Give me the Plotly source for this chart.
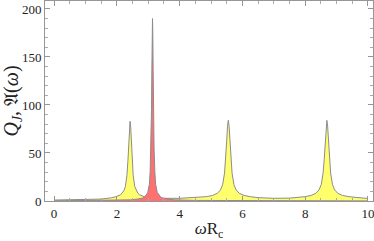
import plotly.graph_objects as go

# Yellow curve Q_J
yel_x = [0.0, 0.5, 1.0, 1.5, 1.82, 1.97, 2.12, 2.17, 2.22, 2.27, 2.32, 2.353, 2.38, 2.40, 2.42, 2.44, 2.46, 2.487,
         2.52, 2.57, 2.62, 2.67, 2.72, 2.87, 3.02, 3.22, 3.5, 4.0, 4.5, 4.85, 5.05, 5.2, 5.3, 5.37, 5.43, 5.465, 5.5,
         5.525, 5.55, 5.575, 5.6, 5.635, 5.67, 5.73, 5.8, 5.9, 6.05, 6.25, 6.5, 7.0, 7.5, 7.99, 8.19, 8.34, 8.44,
         8.51, 8.57, 8.605, 8.64, 8.665, 8.69, 8.715, 8.74, 8.775, 8.81, 8.87, 8.94, 9.04, 9.19, 9.39, 9.7, 10.0]
yel_y = [1.0, 1.1, 1.4, 2.0, 3.3, 4.5, 6.5, 8.0, 10.5, 15, 26.5, 42.5, 62, 77, 83, 77, 62, 42.5,
         26.5, 15, 10.5, 8.0, 6.5, 4.5, 3.5, 3.0, 2.8, 2.8, 3.6, 4.5, 5.8, 8.0, 11.5, 17, 29, 43, 63,
         78, 84, 78, 63, 43, 29, 17, 11.5, 8.0, 5.8, 4.5, 3.5, 2.8, 3.0, 4.5, 5.8, 8.0, 11.5,
         17, 29, 43, 63, 78, 84, 78, 63, 43, 29, 17, 11.5, 8.0, 5.8, 4.5, 3.4, 2.6]

# Red curve A(omega)
red_x = [0.0, 1.0, 2.0, 2.435, 2.685, 2.835, 2.885, 2.935, 2.985, 3.035, 3.06, 3.085, 3.103, 3.115, 3.125,
         3.135, 3.145, 3.155, 3.167, 3.185, 3.21, 3.235, 3.285, 3.335, 3.385, 3.435, 3.585, 3.835, 4.5, 6.0, 10.0]
red_y = [0.2, 0.4, 0.8, 1.2, 2.2, 3.2, 4.6, 6.2, 9.0, 17.5, 30, 55, 95, 137, 173,
         190, 173, 137, 95, 55, 30, 17.5, 9.0, 6.2, 4.6, 3.2, 2.2, 1.2, 0.6, 0.3, 0.1]

x_ticks = [0, 2, 4, 6, 8, 10]
y_ticks = [0, 50, 100, 150, 200]

fig = go.Figure()
fig.add_trace(go.Scatter(x=yel_x, y=yel_y, mode="lines", fill="tozeroy",
                         fillcolor="rgb(255,255,110)", line=dict(color="rgb(140,140,140)", width=1)))
fig.add_trace(go.Scatter(x=red_x, y=red_y, mode="lines", fill="tozeroy",
                         fillcolor="rgb(255,112,112)", line=dict(color="rgb(140,140,140)", width=1)))

axis_common = dict(showgrid=False, zeroline=False, showline=True, linecolor="rgb(150,150,150)", linewidth=1,
                   mirror="allticks", ticks="inside", ticklen=5, tickcolor="rgb(150,150,150)",
                   ticklabeloverflow="allow",
                   tickfont=dict(family="Liberation Serif", size=13, color="#222"))
fig.update_xaxes(range=[-0.29, 10.16], tickvals=x_ticks,
                 minor=dict(dtick=0.5, ticks="inside", ticklen=3, tickcolor="rgb(170,170,170)"),
                 title=dict(text="<i>ω</i>R<sub>c</sub>", font=dict(family="Liberation Serif", size=17, color="#222"),
                            standoff=4),
                 **axis_common)
fig.update_yaxes(range=[0, 208.3], tickvals=y_ticks,
                 minor=dict(dtick=10, ticks="inside", ticklen=3, tickcolor="rgb(170,170,170)"),
                 title=dict(text="<i>Q<sub>J</sub></i>, 𝔄(<i>ω</i>)",
                            font=dict(family="Liberation Serif", size=20, color="#222"), standoff=2),
                 **axis_common)
fig.update_layout(width=374, height=241, margin=dict(l=45, r=1, t=1, b=40),
                  paper_bgcolor="white", plot_bgcolor="white", showlegend=False)
fig.write_html("out.html", config={"displayModeBar": False},
               post_script="document.body.style.margin='0';document.body.style.overflow='hidden';")
